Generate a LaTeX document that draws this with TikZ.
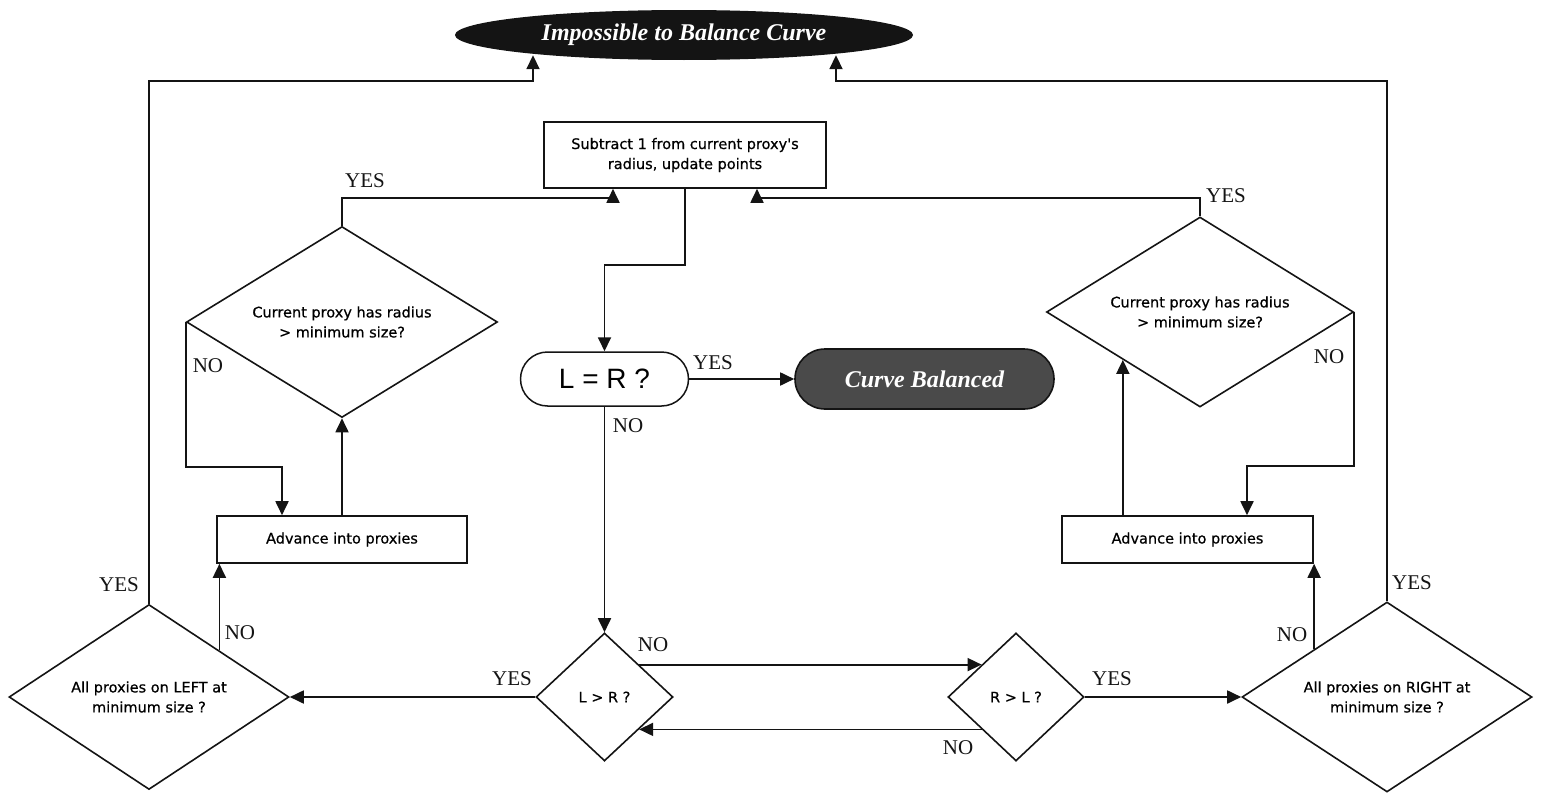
\documentclass[tikz,border=0pt]{standalone}
\usepackage{fontspec}
\setmainfont{Liberation Serif}
\newfontfamily\boxfont[FakeBold=0.6]{DejaVu Sans}
\newfontfamily\eqfont{Liberation Sans}
\usepackage{tikz}
\usetikzlibrary{calc,shapes.geometric,arrows.meta}
\definecolor{ink}{HTML}{141414}
\definecolor{slate}{HTML}{4A4A4A}
\tikzset{
  link/.style={draw=ink, line width=1.8pt},
  flow/.style={link, -{Triangle[length=14pt,width=13pt]}},
  procbox/.style={draw=ink, line width=1.6pt, fill=white, rectangle, inner sep=0pt,
    align=center, font=\boxfont\fontsize{14.5}{20}\selectfont},
  decision/.style={procbox, shape=diamond},
  cmpbox/.style={draw=ink, line width=1.5pt, rectangle, rounded corners=27pt, inner sep=0pt,
    font=\eqfont\fontsize{28}{32}\selectfont},
  terminal/.style={draw=ink, line width=1.6pt, rectangle, rounded corners=30pt, fill=slate,
    text=white, inner sep=0pt, font=\bfseries\itshape\fontsize{24}{28}\selectfont},
  endcap/.style={ellipse, fill=ink, text=white, inner sep=0pt,
    font=\bfseries\itshape\fontsize{24}{28}\selectfont},
  answer/.style={text=ink, inner sep=0pt, font=\fontsize{21}{24}\selectfont}
}

\begin{document}
\begin{tikzpicture}[x=1pt, y=-1pt]
  \useasboundingbox (0,0) rectangle (1543,795);

  % end states
  \node[endcap, minimum width=458pt, minimum height=50pt] (imp) at (684,35) {Impossible to Balance Curve};
  \node[terminal, minimum width=259pt, minimum height=60pt] (bal) at (924.5,379) {Curve Balanced};

  % boxes
  \node[procbox, minimum width=282pt, minimum height=66pt] (sub) at (685,155)
    {Subtract 1 from current proxy\textquotesingle s\\radius, update points};
  \node[procbox, minimum width=250pt, minimum height=47pt] (advL) at (342,539.5) {Advance into proxies};
  \node[procbox, minimum width=251pt, minimum height=47pt] (advR) at (1187.5,539.5) {Advance into proxies};
  \node[cmpbox, minimum width=168pt, minimum height=54pt] (eq) at (604.5,379) {L = R ?};

  % tests
  \node[decision, aspect=1.07, minimum width=137pt, minimum height=128pt] (lr) at (604.5,697) {L > R ?};
  \node[decision, aspect=1.07, minimum width=136pt, minimum height=128pt] (rl) at (1016,697) {R > L ?};
  \node[decision, aspect=1.51, minimum width=280pt, minimum height=185pt] (allL) at (149,697)
    {All proxies on LEFT at\\minimum size ?};
  \node[decision, aspect=1.53, minimum width=290pt, minimum height=190pt] (allR) at (1387,697)
    {All proxies on RIGHT at\\minimum size ?};
  \node[decision, aspect=1.63, minimum width=311pt, minimum height=191pt] (curL) at (342,322)
    {Current proxy has radius\\> minimum size?};
  \node[decision, aspect=1.62, minimum width=307pt, minimum height=190pt] (curR) at (1200,312)
    {Current proxy has radius\\> minimum size?};

  % bends
  \coordinate (subTurn) at (604.5,265);
  \coordinate (lYes) at (613,198);
  \coordinate (rYes) at (757,198);
  \coordinate (lNo) at (282,467);
  \coordinate (rNo) at (1247,466);
  \coordinate (lTop) at (533,81);
  \coordinate (rTop) at (836,81);

  \draw[flow] (sub.south) |- (subTurn) -- (eq.north);
  \draw[flow] (eq.east) -- (bal.west);
  \draw[flow] (eq.south) -- (lr.north);
  \draw[flow] (lr.north east) -- (rl.north west);
  \draw[flow] (rl.south west) -- (lr.south east);
  \draw[flow] (lr.west) -- (allL.east);
  \draw[flow] (rl.east) -- (allR.west);
  \draw[flow] (allL.north east) -- (allL.north east |- advL.south);
  \draw[flow] (allR.north west) -- (allR.north west |- advR.south);
  \draw[flow] (advL.north) -- (curL.south);
  \draw[flow] (advR.north -| curR.south west) -- (curR.south west);
  \draw[flow] (curL.west) |- (lNo) -- (lNo |- advL.north);
  \draw[flow] (curR.east) |- (rNo) -- (rNo |- advR.north);
  \draw[flow] (curL.north) |- (lYes) -- (lYes |- sub.south);
  \draw[flow] (curR.north) |- (rYes) -- (rYes |- sub.south);
  \draw[flow] (allL.north) |- (lTop) -- ($(lTop |- imp.south)+(0,-5)$);
  \draw[flow] (allR.north) |- (rTop) -- ($(rTop |- imp.south)+(0,-5)$);

  % YES / NO
  \node[answer] (yCurL) at (365,181) {YES};
  \node[answer] (nCurL) at (208,366) {NO};
  \node[answer] (yCurR) at (1226,196) {YES};
  \node[answer] (nCurR) at (1329,357) {NO};
  \node[answer] (yEq) at (713,363) {YES};
  \node[answer] (nEq) at (628,426) {NO};
  \node[answer] (nLr) at (653,645) {NO};
  \node[answer] (yLr) at (512,679) {YES};
  \node[answer] (yRl) at (1112,679) {YES};
  \node[answer] (nRl) at (958,748) {NO};
  \node[answer] (yAllL) at (119,585) {YES};
  \node[answer] (nAllL) at (240,633) {NO};
  \node[answer] (yAllR) at (1412,583) {YES};
  \node[answer] (nAllR) at (1292,635) {NO};
\end{tikzpicture}
\end{document}
